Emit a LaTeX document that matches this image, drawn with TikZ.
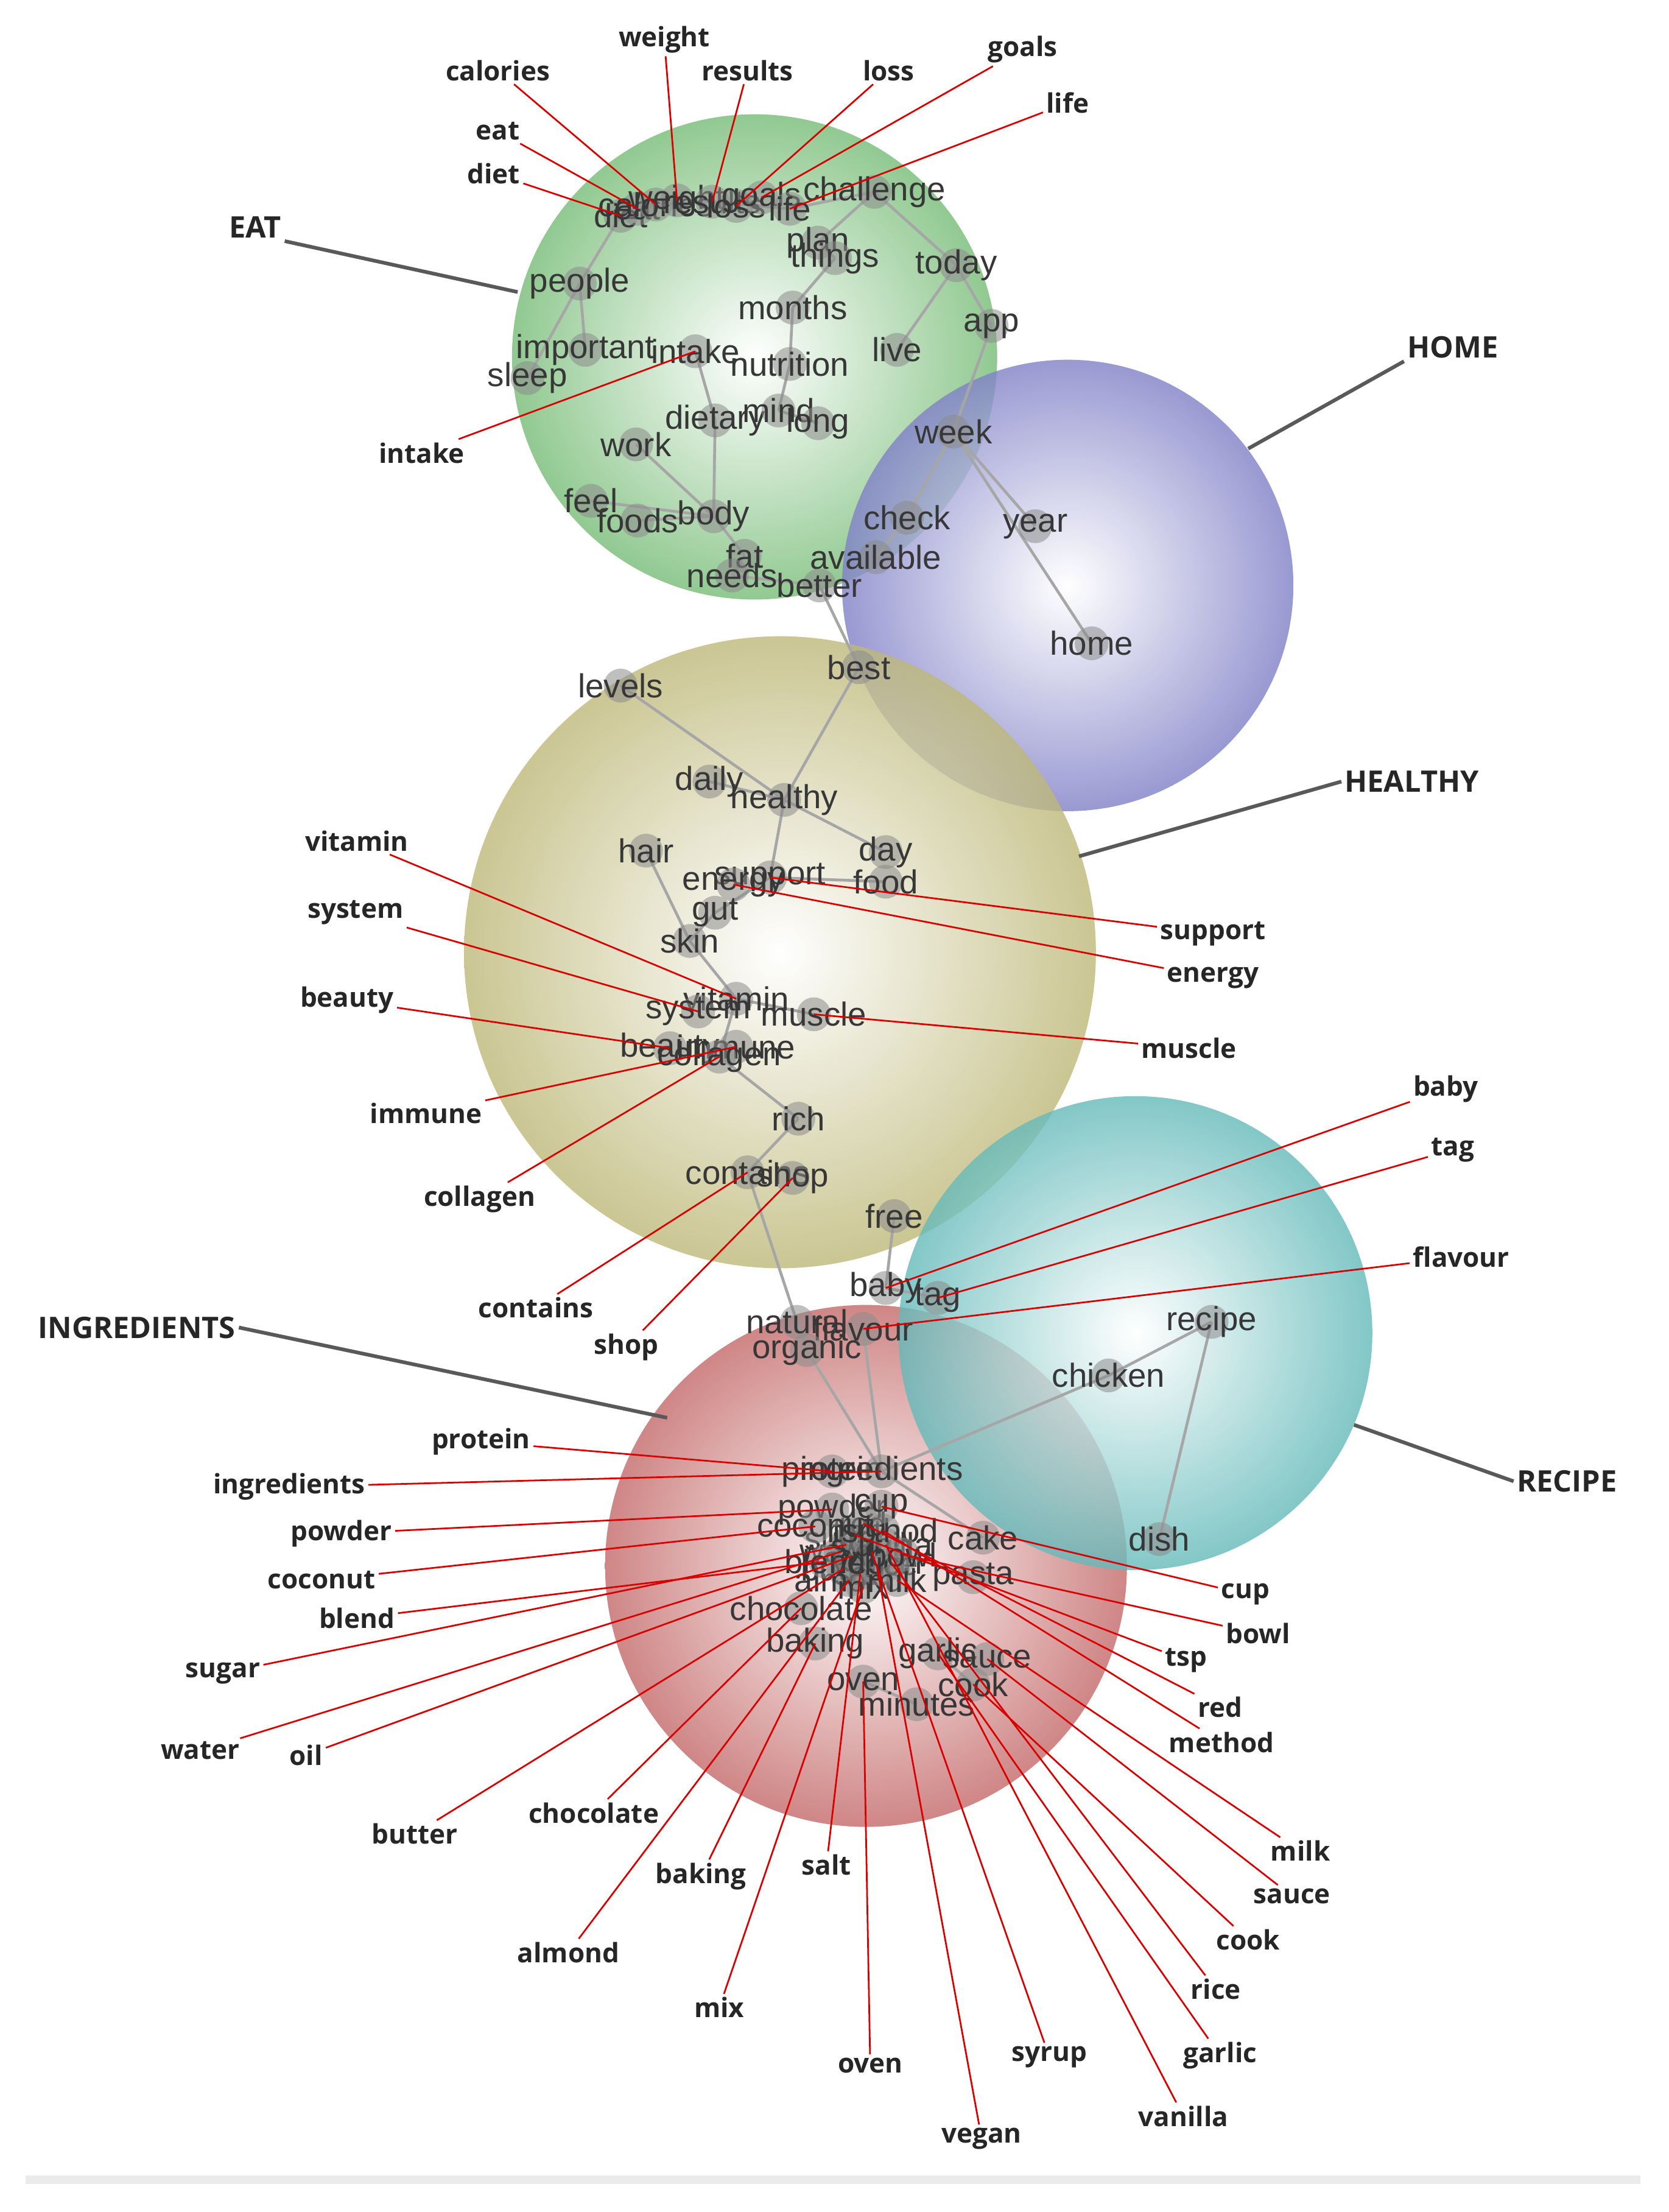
\documentclass[tikz,border=0pt]{standalone}
\usepackage{fontspec}
\setmainfont{Liberation Sans}
\newfontfamily\labfont{Open Sans}
\definecolor{cgreen}{RGB}{118,188,118}
\definecolor{cpurple}{RGB}{128,128,200}
\definecolor{cyellow}{RGB}{190,184,120}
\definecolor{cteal}{RGB}{100,186,186}
\definecolor{cred}{RGB}{196,104,104}
\definecolor{wordc}{RGB}{55,55,55}
\tikzset{
 word/.style={font=\fontsize{11.8}{12}\selectfont, text=wordc, inner sep=0pt},
 lab/.style={font=\labfont\bfseries\fontsize{9.5}{10}\selectfont, text=black!85, inner sep=1pt},
 cat/.style={font=\labfont\bfseries\fontsize{10.5}{11}\selectfont, text=black!85, inner sep=1pt},
 edge/.style={draw=black!35, line width=1pt},
 rl/.style={draw=red!85!black, line width=0.6pt},
 cl/.style={draw=black!65, line width=1.3pt},
 dotc/.style={fill=black!45, opacity=0.55},
 sph/.style={inner color=white, opacity=0.8}
}
\newcommand\pt[3]{\coordinate (#1) at (#2,#3);}
\newcommand\wt[2]{\fill[dotc] (#1) circle (6pt); \node[word] at (#1) {#2};}
\begin{document}
\begin{tikzpicture}[x=0.5pt,y=-0.5pt]
\useasboundingbox (0,0) rectangle (1183,1568);
\fill[white] (0,0) rectangle (1183,1568);
\draw[black!8, line width=3pt] (18,1545) -- (1163,1545);
% spheres
\shade[sph, outer color=cgreen] (535,253) circle (172);
\shade[sph, outer color=cpurple] (757,415) circle (160);
\shade[sph, outer color=cyellow] (553,675) circle (224);
\shade[sph, outer color=cred] (614,1110) circle (185);
\shade[sph, outer color=cteal] (805,945) circle (168);
% coordinates
\pt{diet}{440}{153}\pt{eat}{452}{148}\pt{calories}{465}{145}\pt{weight}{480}{142}
\pt{results}{505}{143}\pt{loss}{522}{146}\pt{goals}{540}{140}\pt{life}{560}{148}
\pt{challenge}{620}{136}\pt{people}{411}{201}\pt{plan}{580}{172}\pt{things}{592}{183}
\pt{today}{678}{188}\pt{months}{562}{218}\pt{app}{703}{231}\pt{important}{415}{248}
\pt{intake}{493}{249}\pt{nutrition}{560}{258}\pt{live}{636}{248}\pt{sleep}{374}{268}
\pt{dietary}{507}{298}\pt{mind}{552}{291}\pt{long}{580}{300}\pt{work}{451}{315}
\pt{week}{676}{306}\pt{feel}{419}{355}\pt{foods}{452}{369}\pt{body}{506}{366}
\pt{check}{643}{367}\pt{year}{734}{373}\pt{fat}{528}{394}\pt{available}{621}{395}
\pt{needs}{519}{408}\pt{better}{581}{415}\pt{home}{774}{456}
\pt{levels}{440}{486}\pt{best}{609}{473}\pt{daily}{503}{554}\pt{healthy}{556}{567}
\pt{hair}{458}{603}\pt{day}{628}{604}\pt{support}{546}{622}\pt{energy}{520}{627}
\pt{food}{628}{625}\pt{gut}{507}{647}\pt{skin}{489}{667}\pt{vitamin}{522}{708}
\pt{system}{495}{717}\pt{muscle}{577}{719}\pt{beauty}{475}{743}\pt{immune}{522}{742}
\pt{collagen}{510}{749}\pt{rich}{566}{793}\pt{contains}{530}{831}\pt{shop}{562}{835}
\pt{free}{634}{862}\pt{baby}{628}{913}\pt{tag}{665}{920}\pt{flavour}{612}{942}
\pt{recipe}{859}{937}\pt{chicken}{786}{975}\pt{dish}{822}{1091}
\pt{natural}{565}{937}\pt{organic}{572}{957}
\pt{protein}{590}{1043}\pt{ingredients}{625}{1043}\pt{powder}{590}{1070}\pt{cup}{625}{1068}
\pt{coconut}{578}{1082}\pt{cake}{697}{1090}\pt{blend}{585}{1107}\pt{bowl}{640}{1102}
\pt{pasta}{690}{1118}\pt{chocolate}{568}{1140}\pt{baking}{578}{1165}\pt{garlic}{665}{1172}
\pt{sauce}{700}{1176}\pt{cook}{690}{1194}\pt{oven}{612}{1192}\pt{minutes}{650}{1208}
\pt{sugar}{600}{1095}\pt{water}{596}{1100}\pt{oil}{604}{1103}\pt{butter}{598}{1112}
\pt{salt}{610}{1115}\pt{almond}{602}{1120}\pt{mix}{612}{1125}\pt{vegan}{622}{1112}
\pt{syrup}{618}{1100}\pt{vanilla}{628}{1095}\pt{rice}{632}{1108}\pt{milk}{636}{1120}
\pt{method}{626}{1085}\pt{red}{612}{1080}\pt{tsp}{606}{1088}
% edges
\foreach \a/\b in {diet/calories,calories/results,results/life,life/challenge,diet/people,
 people/important,people/sleep,challenge/today,challenge/plan,plan/things,things/months,
 months/nutrition,today/live,today/app,app/week,week/year,week/home,week/check,
 intake/dietary,nutrition/mind,mind/long,dietary/body,work/body,body/foods,body/feel,body/fat,
 fat/needs,needs/better,better/best,check/available,best/healthy,levels/healthy,daily/healthy,
 healthy/day,healthy/support,support/food,support/gut,hair/skin,gut/skin,skin/vitamin,
 vitamin/muscle,vitamin/collagen,collagen/rich,rich/contains,contains/natural,free/baby,baby/tag,
 natural/organic,organic/ingredients,ingredients/chicken,chicken/recipe,recipe/dish,
 flavour/ingredients,ingredients/cake,pasta/bowl,oven/minutes,garlic/cook}
 {\draw[edge] (\a) -- (\b);}
% words
\foreach \n in {diet,eat,calories,weight,results,loss,goals,life,challenge,people,plan,things,
 today,months,app,important,intake,nutrition,live,sleep,dietary,mind,long,work,week,feel,foods,
 body,check,year,fat,available,needs,better,home,levels,best,daily,healthy,hair,day,support,
 energy,food,gut,skin,vitamin,system,muscle,beauty,immune,collagen,rich,contains,shop,free,
 baby,tag,flavour,recipe,chicken,dish,natural,organic,sugar,water,oil,butter,salt,almond,mix,
 vegan,syrup,vanilla,rice,milk,method,red,tsp,protein,ingredients,powder,cup,coconut,cake,blend,
 bowl,pasta,chocolate,baking,garlic,sauce,cook,oven,minutes}
 {\wt{\n}{\n}}
% category labels
\node[cat] (cEAT) at (181,161) {EAT};
\node[cat] (cHOME) at (1030,246) {HOME};
\node[cat] (cHEALTHY) at (1001,554) {HEALTHY};
\node[cat] (cRECIPE) at (1111,1050) {RECIPE};
\node[cat] (cING) at (97,941) {INGREDIENTS};
\coordinate (eEAT) at (367,207);\coordinate (eHOME) at (885,318);
\coordinate (eHEALTHY) at (765,607);\coordinate (eRECIPE) at (960,1010);
\coordinate (eING) at (473,1005);
\draw[cl] (cEAT.south east) -- (eEAT);
\draw[cl] (cHOME.south west) -- (eHOME);
\draw[cl] (cHEALTHY.west) -- (eHEALTHY);
\draw[cl] (cRECIPE.west) -- (eRECIPE);
\draw[cl] (cING.east) -- (eING);
% outer labels with red leaders
\foreach \n/\x/\y in {calories/353/50,weight/471/28,results/530/50,loss/630/50,goals/725/35,
 life/757/73,eat/353/93,diet/350/123,intake/299/321,
 vitamin/253/596,system/252/647,beauty/246/709,immune/302/789,collagen/340/850,
 contains/380/927,shop/444/955,support/860/662,energy/860/693,muscle/843/743,
 baby/1025/772,tag/1030/815,flavour/1036/891,
 protein/341/1022,ingredients/205/1054,powder/242/1087,coconut/228/1120,blend/253/1147,
 sugar/158/1186,water/142/1241,oil/217/1244,butter/294/1300,chocolate/421/1285,
 baking/497/1330,salt/586/1322,almond/403/1384,mix/510/1423,oven/617/1464,vegan/696/1516,
 syrup/744/1458,vanilla/839/1500,garlic/865/1457,rice/862/1410,cook/885/1375,sauce/916/1344,
 milk/922/1312,method/866/1235,red/865/1210,tsp/841/1177,bowl/892/1158,cup/883/1130}
 {\node[lab] (L\n) at (\x,\y) {\n}; \draw[rl] (L\n) -- (\n);}
\end{tikzpicture}
\end{document}
